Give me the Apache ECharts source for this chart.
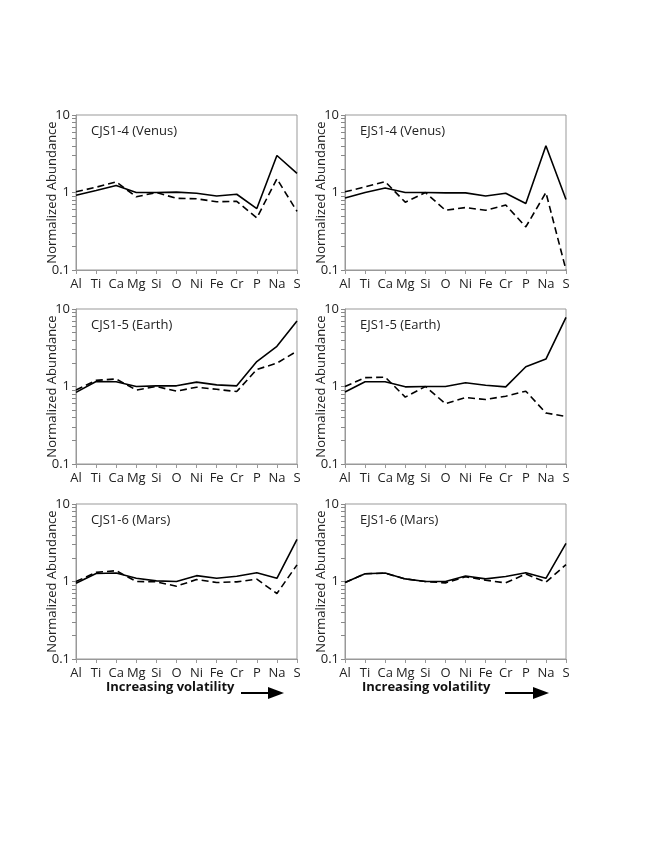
<!DOCTYPE html>
<html>
<head>
<meta charset="utf-8">
<script src="https://cdn.jsdelivr.net/npm/echarts@6/dist/echarts.min.js"></script>
<style>
html,body{margin:0;padding:0;background:#fff;}
#chart{width:654px;height:846px;}
</style>
</head>
<body>
<div id="chart"></div>
<script>
var categories = ['Al','Ti','Ca','Mg','Si','O','Ni','Fe','Cr','P','Na','S'];
var yTickLabels = [0.1, 1, 10];
var yTickValues = [0.1,0.2,0.3,0.4,0.5,0.6,0.7,0.8,0.9,1,2,3,4,5,6,7,8,9,10];
var panelTitles = ['CJS1-4 (Venus)','EJS1-4 (Venus)','CJS1-5 (Earth)','EJS1-5 (Earth)','CJS1-6 (Mars)','EJS1-6 (Mars)'];
var axisTitle = 'Normalized Abundance';
var footerText = 'Increasing volatility';

var cjs14Solid  = [0.92,1.06,1.23,1.00,1.00,1.01,0.98,0.90,0.95,0.62,3.00,1.77];
var cjs14Dashed = [1.02,1.17,1.37,0.88,1.00,0.84,0.83,0.76,0.77,0.47,1.50,0.57];
var ejs14Solid  = [0.85,1.00,1.14,1.00,1.00,0.99,0.99,0.90,0.98,0.72,4.00,0.81];
var ejs14Dashed = [1.02,1.18,1.38,0.75,1.00,0.59,0.64,0.59,0.69,0.36,1.00,0.10];
var cjs15Solid  = [0.84,1.16,1.15,1.00,1.02,1.02,1.14,1.05,1.02,2.10,3.30,7.00];
var cjs15Dashed = [0.90,1.20,1.25,0.90,1.00,0.87,0.98,0.92,0.86,1.66,2.00,2.86];
var ejs15Solid  = [0.85,1.15,1.15,0.99,1.00,1.00,1.12,1.04,0.99,1.80,2.26,7.80];
var ejs15Dashed = [1.00,1.30,1.32,0.73,1.00,0.60,0.72,0.68,0.75,0.87,0.455,0.41];
var cjs16Solid  = [0.95,1.27,1.29,1.10,1.02,1.00,1.19,1.10,1.17,1.30,1.10,3.50];
var cjs16Dashed = [1.00,1.31,1.38,1.00,0.99,0.87,1.06,0.97,0.99,1.07,0.70,1.64];
var ejs16Solid  = [0.97,1.26,1.29,1.08,1.00,1.00,1.18,1.08,1.16,1.30,1.10,3.10];
var ejs16Dashed = [0.97,1.26,1.28,1.08,1.00,0.96,1.15,1.04,0.96,1.25,0.98,1.65];

var panelData = [
  [cjs14Solid, cjs14Dashed],
  [ejs14Solid, ejs14Dashed],
  [cjs15Solid, cjs15Dashed],
  [ejs15Solid, ejs15Dashed],
  [cjs16Solid, cjs16Dashed],
  [ejs16Solid, ejs16Dashed]
];

var FONT = '"Open Sans", "Noto Sans", sans-serif';
var colLeft = [76, 345];
var plotW = [221, 221];
var rowTop = [115, 309, 504];
var plotH = 155;

var grids = [], xAxes = [], yAxes = [], series = [], titles = [];
for (var i = 0; i < 6; i++) {
  var c = i % 2, r = Math.floor(i / 2);
  grids.push({left: colLeft[c], top: rowTop[r], width: plotW[c], height: plotH,
    show: true, borderColor: '#999', borderWidth: 1, containLabel: false});
  xAxes.push({type: 'category', gridIndex: i, data: categories, boundaryGap: false,
    axisLine: {lineStyle: {color: '#999', width: 1}},
    axisTick: {show: true, length: 4, lineStyle: {color: '#999'}},
    axisLabel: {color: '#222', fontSize: 13, fontFamily: FONT, margin: 8, interval: 0},
    splitLine: {show: false}});
  yAxes.push({type: 'log', logBase: 10, gridIndex: i, min: 0.1, max: 10, position: 'left',
    name: axisTitle, nameLocation: 'middle', nameGap: 17, nameRotate: 90, nameMoveOverlap: false,
    nameTextStyle: {color: '#222', fontSize: 13, fontFamily: FONT},
    axisLine: {show: true, lineStyle: {color: '#999', width: 1}},
    axisTick: {show: true, length: 4, customValues: yTickValues, lineStyle: {color: '#888'}},
    axisLabel: {color: '#222', fontSize: 13, fontFamily: FONT, margin: 6,
      customValues: yTickLabels,
      formatter: function (v) { return v < 1 ? v.toFixed(1) : String(Math.round(v)); }},
    splitLine: {show: false}});
  titles.push({text: panelTitles[i], left: colLeft[c] + 10, top: rowTop[r] + 5,
    textStyle: {fontSize: 13, fontWeight: 'normal', color: '#222', fontFamily: FONT}});
  series.push({name: panelTitles[i] + ' solid', type: 'line', xAxisIndex: i, yAxisIndex: i,
    data: panelData[i][0], symbol: 'none', silent: true,
    lineStyle: {color: '#000', width: 1.6, type: 'solid'}});
  series.push({name: panelTitles[i] + ' dashed', type: 'line', xAxisIndex: i, yAxisIndex: i,
    data: panelData[i][1], symbol: 'none', silent: true,
    lineStyle: {color: '#000', width: 1.6, type: [7, 4]}});
}

var footY = 691;
var graphics = [];
[[106, 241, 284], [362, 505, 549]].forEach(function (g) {
  graphics.push({type: 'text', left: g[0], top: footY - 10,
    style: {text: footerText, font: 'bold 13px ' + FONT, fill: '#111'}});
  graphics.push({type: 'line', shape: {x1: g[1], y1: footY + 2, x2: g[2] - 14, y2: footY + 2},
    style: {stroke: '#000', lineWidth: 2}});
  graphics.push({type: 'polygon', shape: {points: [[g[2] - 16, footY - 4], [g[2], footY + 2], [g[2] - 16, footY + 8]]},
    style: {fill: '#000'}});
});

var chart = echarts.init(document.getElementById('chart'), null, {renderer: 'canvas'});
chart.setOption({
  backgroundColor: '#fff',
  animation: false,
  title: titles,
  grid: grids,
  xAxis: xAxes,
  yAxis: yAxes,
  series: series,
  graphic: graphics
});
</script>
</body>
</html>
